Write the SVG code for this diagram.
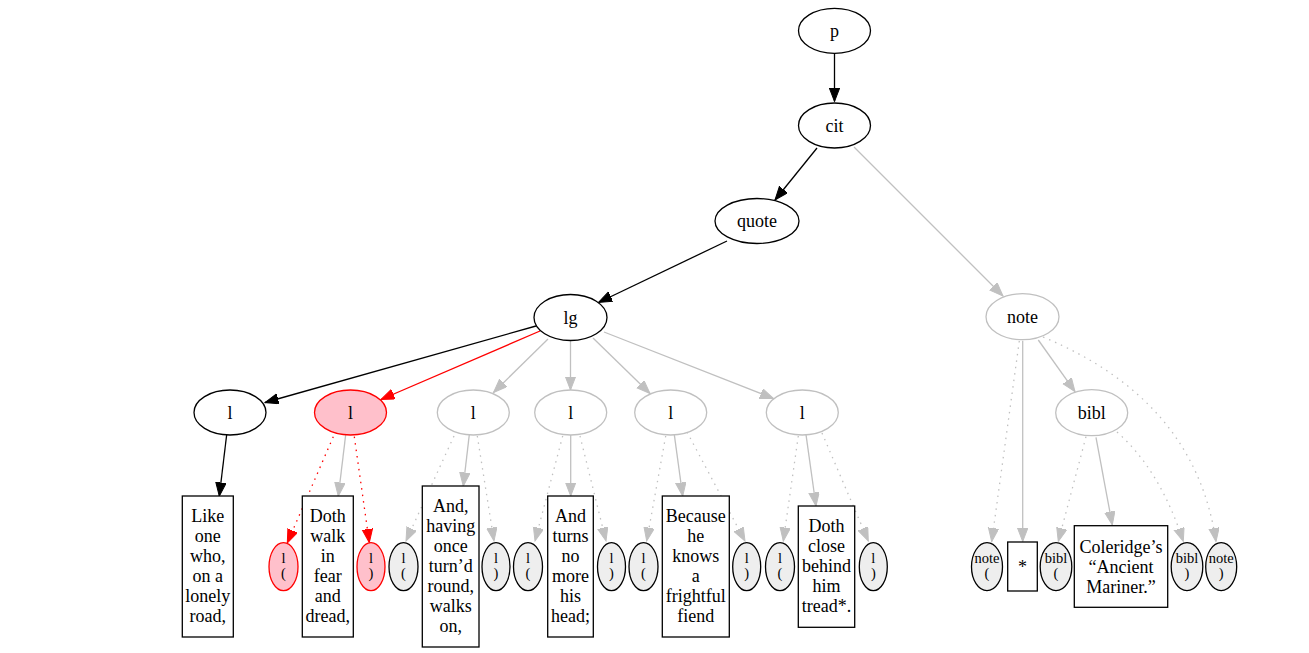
<svg xmlns="http://www.w3.org/2000/svg" width="1309" height="653" viewBox="0 0 1309 653">
<defs>
<marker id="ab" markerUnits="userSpaceOnUse" markerWidth="15" markerHeight="12" refX="13.5" refY="5.2" orient="auto"><path d="M0,0 L13.5,5.2 L0,10.4 z" fill="#000" stroke="#000" stroke-width="1"/></marker>
<marker id="ar" markerUnits="userSpaceOnUse" markerWidth="15" markerHeight="12" refX="13.5" refY="5.2" orient="auto"><path d="M0,0 L13.5,5.2 L0,10.4 z" fill="#ff0000" stroke="#ff0000" stroke-width="1"/></marker>
<marker id="ag" markerUnits="userSpaceOnUse" markerWidth="15" markerHeight="12" refX="13.5" refY="5.2" orient="auto"><path d="M0,0 L13.5,5.2 L0,10.4 z" fill="#c0c0c0" stroke="#c0c0c0" stroke-width="1"/></marker>
</defs>
<style>
text{font-family:"Liberation Serif","Times New Roman",serif;font-size:18px;text-anchor:middle;fill:#000}
.sm{font-size:14.5px}
.nb{fill:#fff;stroke:#000;stroke-width:1.3}
.ng{fill:#fff;stroke:#c0c0c0;stroke-width:1.3}
.nr{fill:#ffc0cb;stroke:#ff0000;stroke-width:1.3}
.nt{fill:#eeeeee;stroke:#000;stroke-width:1.3}
.bx{fill:#fff;stroke:#000;stroke-width:1.3}
.eb{fill:none;stroke:#000;stroke-width:1.3;marker-end:url(#ab)}
.er{fill:none;stroke:#ff0000;stroke-width:1.3;marker-end:url(#ar)}
.eg{fill:none;stroke:#c0c0c0;stroke-width:1.3;marker-end:url(#ag)}
.dr{fill:none;stroke:#ff0000;stroke-width:1.3;stroke-dasharray:1.5,5;marker-end:url(#ar)}
.dg{fill:none;stroke:#c0c0c0;stroke-width:1.3;stroke-dasharray:1.5,5;marker-end:url(#ag)}
</style>
<rect width="1309" height="653" fill="#fff"/>
<g id="edges">
<path class="eb" d="M834.5,53 L834.5,101.5"/>
<path class="eb" d="M817,148 L775,200"/>
<path class="eg" d="M854,147 L1003,296"/>
<path class="eb" d="M727,241 L598.5,302.5"/>
<path class="eb" d="M536,326 L265,402.5"/>
<path class="er" d="M540,331 L381,399.5"/>
<path class="eg" d="M548,339 L493.5,392.5"/>
<path class="eg" d="M570.5,341 L570.5,390"/>
<path class="eg" d="M593,338 L650,393.5"/>
<path class="eg" d="M604,332 L773.5,398.5"/>
<path class="eb" d="M226.7,434.5 L219.3,496"/>
<path class="dr" d="M333.3,436.7 L287.3,543"/>
<path class="eg" d="M345.7,434.7 L338.3,496"/>
<path class="dr" d="M354.3,436.7 L369.3,542.5"/>
<path class="dg" d="M454,436 L406,541"/>
<path class="eg" d="M469.3,434.7 L463.3,486"/>
<path class="dg" d="M477.3,436 L494,541"/>
<path class="dg" d="M562.7,436 L535,541"/>
<path class="eg" d="M570.7,435 L570.7,496"/>
<path class="dg" d="M580,436 L606,541"/>
<path class="dg" d="M665.7,436 L646.7,541"/>
<path class="eg" d="M674.3,434.7 L682.7,496"/>
<path class="dg" d="M687,432 L745,541"/>
<path class="dg" d="M798.3,436 L783.3,541"/>
<path class="eg" d="M806,434.7 L816,506"/>
<path class="dg" d="M822,433 L868.3,541"/>
<path class="dg" d="M1019.3,341 L991.7,541.5"/>
<path class="eg" d="M1022.7,340.7 L1022.7,541.5"/>
<path class="eg" d="M1038.3,340 L1075,391.7"/>
<path class="dg" d="M1043,337 Q1195,400 1216,541.5"/>
<path class="dg" d="M1086,436.7 L1058.3,541.5"/>
<path class="eg" d="M1096,437.3 L1112.3,525"/>
<path class="dg" d="M1117,432 Q1160,470 1183.3,541.5"/>
</g>
<g id="n_p"><ellipse class="nb" cx="834.5" cy="30.8" rx="36" ry="22.5"/><text x="834.5" y="36.5">p</text></g>
<g id="n_cit"><ellipse class="nb" cx="834.5" cy="125.5" rx="36" ry="22.5"/><text x="834.5" y="131.5">cit</text></g>
<g id="n_quote"><ellipse class="nb" cx="757" cy="221" rx="42" ry="22.5"/><text x="757" y="227">quote</text></g>
<g id="n_lg"><ellipse class="nb" cx="570.5" cy="317.5" rx="36.5" ry="23"/><text x="570.5" y="323.5">lg</text></g>
<g id="n_note"><ellipse class="ng" cx="1022.5" cy="316.7" rx="36.5" ry="23"/><text x="1022.5" y="322.5">note</text></g>
<g id="n_l1"><ellipse class="nb" cx="230" cy="412.5" rx="36" ry="22.5"/><text x="230" y="418.5">l</text></g>
<g id="n_l2"><ellipse class="nr" cx="350.5" cy="412.5" rx="36" ry="22.5"/><text x="350.5" y="418.5">l</text></g>
<g id="n_l3"><ellipse class="ng" cx="473.3" cy="412.5" rx="36" ry="22.5"/><text x="473.3" y="418.5">l</text></g>
<g id="n_l4"><ellipse class="ng" cx="570.7" cy="412.5" rx="36" ry="22.5"/><text x="570.7" y="418.5">l</text></g>
<g id="n_l5"><ellipse class="ng" cx="670.7" cy="412.5" rx="36" ry="22.5"/><text x="670.7" y="418.5">l</text></g>
<g id="n_l6"><ellipse class="ng" cx="802.3" cy="412.5" rx="36" ry="22.5"/><text x="802.3" y="418.5">l</text></g>
<g id="n_bibl"><ellipse class="ng" cx="1091.7" cy="412.7" rx="36" ry="23"/><text x="1091.7" y="418.5">bibl</text></g>
<g id="t1"><rect class="bx" x="182.3" y="496" width="51" height="141"/><text x="207.8" y="522">Like</text><text x="207.8" y="542">one</text><text x="207.8" y="562">who,</text><text x="207.8" y="582">on a</text><text x="207.8" y="602">lonely</text><text x="207.8" y="622">road,</text></g>
<g id="t2"><rect class="bx" x="302.3" y="496" width="51" height="141"/><text x="327.8" y="522">Doth</text><text x="327.8" y="542">walk</text><text x="327.8" y="562">in</text><text x="327.8" y="582">fear</text><text x="327.8" y="602">and</text><text x="327.8" y="622">dread,</text></g>
<g id="t3"><rect class="bx" x="422.3" y="486" width="56.7" height="161"/><text x="450.7" y="512">And,</text><text x="450.7" y="532">having</text><text x="450.7" y="552">once</text><text x="450.7" y="572">turn’d</text><text x="450.7" y="592">round,</text><text x="450.7" y="612">walks</text><text x="450.7" y="632">on,</text></g>
<g id="t4"><rect class="bx" x="547.7" y="496" width="45.6" height="141"/><text x="570.5" y="522">And</text><text x="570.5" y="542">turns</text><text x="570.5" y="562">no</text><text x="570.5" y="582">more</text><text x="570.5" y="602">his</text><text x="570.5" y="622">head;</text></g>
<g id="t5"><rect class="bx" x="662.3" y="496" width="67" height="141"/><text x="695.8" y="522">Because</text><text x="695.8" y="542">he</text><text x="695.8" y="562">knows</text><text x="695.8" y="582">a</text><text x="695.8" y="602">frightful</text><text x="695.8" y="622">fiend</text></g>
<g id="t6"><rect class="bx" x="798.3" y="506" width="56.4" height="121.3"/><text x="826.5" y="532">Doth</text><text x="826.5" y="552">close</text><text x="826.5" y="572">behind</text><text x="826.5" y="592">him</text><text x="826.5" y="612">tread*.</text></g>
<g id="t7"><rect class="bx" x="1007.7" y="542" width="29.6" height="49"/><text x="1022.5" y="572.5">*</text></g>
<g id="t8"><rect class="bx" x="1074.3" y="525.7" width="93.4" height="81.6"/><text x="1121" y="552.5">Coleridge’s</text><text x="1121" y="572.5">“Ancient</text><text x="1121" y="592.5">Mariner.”</text></g>
<g id="m1"><ellipse class="nr" cx="283.5" cy="566.7" rx="14.5" ry="24"/><text class="sm" x="283.5" y="563">l</text><text class="sm" x="283.5" y="578">(</text></g>
<g id="m2"><ellipse class="nr" cx="371" cy="566.7" rx="14" ry="24"/><text class="sm" x="371" y="563">l</text><text class="sm" x="371" y="578">)</text></g>
<g id="m3"><ellipse class="nt" cx="403.5" cy="566.7" rx="14.5" ry="24"/><text class="sm" x="403.5" y="563">l</text><text class="sm" x="403.5" y="578">(</text></g>
<g id="m4"><ellipse class="nt" cx="496" cy="566.7" rx="14" ry="24"/><text class="sm" x="496" y="563">l</text><text class="sm" x="496" y="578">)</text></g>
<g id="m5"><ellipse class="nt" cx="528" cy="566.7" rx="14.5" ry="24"/><text class="sm" x="528" y="563">l</text><text class="sm" x="528" y="578">(</text></g>
<g id="m6"><ellipse class="nt" cx="611.5" cy="566.7" rx="14" ry="24"/><text class="sm" x="611.5" y="563">l</text><text class="sm" x="611.5" y="578">)</text></g>
<g id="m7"><ellipse class="nt" cx="643.5" cy="566.7" rx="14.5" ry="24"/><text class="sm" x="643.5" y="563">l</text><text class="sm" x="643.5" y="578">(</text></g>
<g id="m8"><ellipse class="nt" cx="746.7" cy="566.7" rx="14" ry="24"/><text class="sm" x="746.7" y="563">l</text><text class="sm" x="746.7" y="578">)</text></g>
<g id="m9"><ellipse class="nt" cx="780" cy="566.7" rx="14.5" ry="24"/><text class="sm" x="780" y="563">l</text><text class="sm" x="780" y="578">(</text></g>
<g id="m10"><ellipse class="nt" cx="873.3" cy="566.7" rx="14" ry="24"/><text class="sm" x="873.3" y="563">l</text><text class="sm" x="873.3" y="578">)</text></g>
<g id="m11"><ellipse class="nt" cx="987" cy="566.7" rx="15.5" ry="24"/><text class="sm" x="987" y="563">note</text><text class="sm" x="987" y="578">(</text></g>
<g id="m12"><ellipse class="nt" cx="1056" cy="566.7" rx="15.8" ry="24"/><text class="sm" x="1056" y="563">bibl</text><text class="sm" x="1056" y="578">(</text></g>
<g id="m13"><ellipse class="nt" cx="1187" cy="566.7" rx="15.8" ry="24"/><text class="sm" x="1187" y="563">bibl</text><text class="sm" x="1187" y="578">)</text></g>
<g id="m14"><ellipse class="nt" cx="1221.2" cy="566.7" rx="15.5" ry="24"/><text class="sm" x="1221.2" y="563">note</text><text class="sm" x="1221.2" y="578">)</text></g>
</svg>
